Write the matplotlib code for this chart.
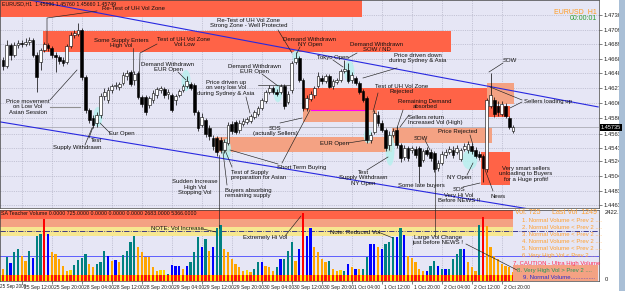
import matplotlib
matplotlib.use('Agg')
import matplotlib.pyplot as plt
import matplotlib.transforms as mtransforms
from matplotlib.patches import Rectangle, Ellipse
from matplotlib.lines import Line2D
import numpy as np

W, H = 625, 291
plt.rcParams['font.family'] = ['Liberation Sans', 'DejaVu Sans']

# ---- price data, in 1/10000 (EURUSD H1) ----
open_ = [14667,14658,14688,14674,14688,14691,14689,14692,14695,14674,
         14664,14681,14688,14684,14674,14671,14667,14664,14687,14702,
         14703,14709,14643,14597,14585,14578,14590,14616,14611,14625,
         14630,14629,14635,14644,14650,14639,14649,14615,14615,14604,
         14611,14618,14625,14626,14619,14618,14611,14618,14625,14630,
         14633,14632,14594,14576,14583,14571,14557,14557,14555,14540,
         14550,14577,14580,14569,14577,14580,14581,14587,14591,14599,
         14609,14622,14628,14622,14622,14630,14608,14625,14664,14670,
         14639,14599,14612,14618,14630,14642,14637,14644,14630,14636,
         14639,14651,14653,14639,14642,14635,14623,14614,14555,14566,
         14590,14578,14569,14548,14562,14569,14548,14531,14543,14540,
         14542,14543,14526,14540,14538,14536,14515,14522,14533,14538,
         14540,14538,14528,14542,14540,14546,14540,14535,14532,14514,
         14602,14611,14602,14591,14602,14585,14567]
high = [14671,14695,14691,14692,14695,14695,14698,14699,14698,14678,
        14684,14692,14691,14687,14678,14674,14671,14689,14706,14709,
        14719,14712,14646,14599,14590,14594,14621,14628,14629,14633,
        14636,14636,14650,14653,14653,14651,14651,14618,14618,14616,
        14625,14629,14630,14629,14626,14621,14619,14626,14633,14644,
        14636,14635,14597,14592,14585,14576,14562,14560,14559,14556,
        14580,14581,14583,14583,14585,14587,14591,14597,14602,14614,
        14625,14632,14630,14626,14633,14633,14623,14666,14678,14673,
        14642,14618,14623,14630,14650,14646,14647,14647,14640,14642,
        14654,14667,14663,14650,14644,14637,14626,14616,14566,14597,
        14595,14583,14571,14567,14571,14574,14550,14548,14546,14546,
        14546,14546,14542,14545,14542,14539,14526,14539,14542,14546,
        14546,14548,14543,14550,14553,14550,14545,14539,14535,14614,
        14649,14615,14609,14609,14606,14588,14576]
low = [14653,14656,14667,14671,14684,14685,14687,14688,14671,14622,
       14653,14678,14680,14670,14650,14661,14658,14661,14684,14698,
       14701,14639,14592,14578,14571,14573,14585,14611,14606,14621,
       14626,14625,14632,14639,14630,14632,14612,14601,14590,14599,
       14606,14614,14621,14614,14612,14594,14604,14615,14622,14628,
       14625,14590,14567,14573,14559,14555,14540,14532,14536,14536,
       14548,14563,14563,14564,14574,14577,14578,14584,14588,14597,
       14606,14619,14619,14616,14619,14598,14605,14621,14661,14636,
       14595,14595,14609,14614,14628,14633,14635,14628,14626,14633,
       14636,14649,14635,14635,14632,14619,14608,14550,14550,14563,
       14574,14566,14539,14540,14559,14543,14524,14526,14525,14536,
       14529,14494,14524,14532,14525,14510,14511,14519,14529,14535,
       14529,14535,14525,14539,14536,14535,14529,14526,14496,14510,
       14599,14587,14588,14588,14585,14570,14564]
close = [14658,14688,14674,14688,14691,14689,14692,14695,14674,14643,
         14681,14689,14684,14674,14671,14666,14663,14687,14702,14705,
         14709,14643,14597,14583,14576,14590,14616,14622,14625,14630,
         14632,14633,14646,14649,14633,14647,14615,14605,14594,14614,
         14621,14626,14628,14618,14622,14597,14616,14623,14630,14637,
         14628,14594,14571,14587,14563,14560,14546,14538,14540,14552,
         14576,14567,14566,14578,14581,14584,14588,14594,14599,14611,
         14622,14628,14622,14619,14630,14602,14619,14663,14670,14639,
         14599,14614,14619,14628,14644,14637,14644,14629,14637,14639,
         14651,14654,14637,14646,14635,14622,14611,14555,14562,14592,
         14578,14569,14543,14562,14567,14548,14529,14543,14529,14543,
         14533,14518,14539,14535,14529,14514,14522,14535,14538,14542,
         14533,14543,14540,14546,14549,14539,14532,14531,14515,14611,
         14618,14591,14594,14605,14588,14573,14573]

# ---- volume per bar and its class (T teal, B blue, O orange, R red, Y yellow) ----
volume = [360,780,570,960,1070,820,640,1000,750,1570,
          1640,2170,1640,960,890,710,460,285,150,500,
          680,750,890,530,430,530,600,1000,820,640,
          680,600,850,1000,1350,1570,1170,960,780,780,
          430,285,150,150,180,500,460,460,360,460,
          600,960,1530,1170,1460,1030,1170,1850,1960,1070,
          960,710,530,430,285,150,250,360,600,600,
          460,430,285,430,710,710,1000,1320,640,1070,
          2390,1570,1850,1140,960,710,600,640,360,285,
          150,285,530,430,360,360,360,780,1280,1280,
          1140,1070,1250,1320,1530,1530,1850,1600,820,750,
          600,360,285,285,460,640,460,360,360,360,
          710,890,1070,1070,600,430,285,1960,2240,1920,
          1140,820,710,530,460,430,250]
vol_class = list("OTBTTOOTBT" "TRBOOOOOYT" "TTTOOTTTBO" "BOTTTTOOOO"
                 "OOYYTBBBOB" "TTTBTOBTTO" "OOOOOYOTTB" "OOOTBTTTOB"
                 "RBBOOOOTOO" "YTBOBOTTBB" "OBTTTBTBOO" "OOOBTTBTBT"
                 "TTTBOOOTRO" "OOOOOOO")

price_levels = [1.47300, 1.47095, 1.46890, 1.46685, 1.46480, 1.46275, 1.46065,
                1.45860, 1.45635, 1.45430, 1.45245, 1.45040, 1.44835, 1.44630]
time_pos = [5, 13, 21, 29, 37, 45, 53, 61, 69, 77, 85, 93, 101, 109, 117, 125, 133]
time_labels = ["25 Sep 12:00", "25 Sep 20:00", "28 Sep 04:00", "28 Sep 12:00", "28 Sep 20:00",
               "29 Sep 04:00", "29 Sep 12:00", "29 Sep 20:00", "30 Sep 04:00", "30 Sep 12:00",
               "30 Sep 20:00", "1 Oct 04:00", "1 Oct 12:00", "1 Oct 20:00", "2 Oct 04:00",
               "2 Oct 12:00", "2 Oct 20:00"]

# supply/demand zones: (kind, bar from, bar to, price low, price high)
zones = [('red', -0.8, 95.7, 1.4727, 1.4770),
         ('red', 10.7, 119.5, 1.4678, 1.4708),
         ('red', 80.0, 129.1, 1.4597, 1.4628),
         ('salmon', 80.0, 99.7, 1.4580, 1.4597),
         ('salmon', 56.5, 103.7, 1.4538, 1.4559),
         ('salmon', 103.7, 130.4, 1.4550, 1.4571),
         ('salmon', 129.1, 136.3, 1.4605, 1.4635),
         ('red', 129.1, 135.2, 1.4587, 1.4602),
         ('red', 127.5, 135.2, 1.4491, 1.4538)]
trend_upper = ([7.2, 158.7], [1.4751, 1.4601])
trend_lower = ([-0.8, 140.0], [1.4580, 1.4458])
last_price = 1.4573
# highlighted bars: (bar, price, width in bars, height in price)
highlights = [(25.3, 1.4587, 2.4, 0.0028), (48.8, 1.4638, 2.4, 0.0030),
              (59.5, 1.4541, 2.6, 0.0030), (73.3, 1.4620, 2.2, 0.0025),
              (78.2, 1.4672, 2.0, 0.0018), (92.3, 1.4651, 2.8, 0.0030),
              (97.3, 1.4560, 2.2, 0.0020), (103.2, 1.4541, 2.4, 0.0045),
              (124.5, 1.4527, 4.0, 0.0028)]

RED = '#FF6347'
SALMON = '#F4A283'
BG = '#E6E6F5'
vol_colors = {'T': '#008080', 'B': '#0000FF', 'O': '#FFA500', 'R': '#FF0000', 'Y': '#FFD700'}


def fx(x):
    return x / W


def fy(y):
    return 1 - y / H


o = np.array(open_) / 1e4
h = np.array(high) / 1e4
l = np.array(low) / 1e4
c = np.array(close) / 1e4
idx = np.arange(len(c))
x0, x1 = -0.8, 158.93

fig = plt.figure(figsize=(W / 100, H / 100), dpi=100)
fig.patch.set_facecolor('white')
ax = fig.add_axes([0, fy(208), fx(599), 208 / H])
axv = fig.add_axes([0, fy(281), fx(599), (281 - 209.5) / H])

for a in (ax, axv):
    a.set_facecolor(BG)
    a.set_xlim(x0, x1)
    for s in a.spines.values():
        s.set_color('#404040')
        s.set_linewidth(0.5)
    a.set_axisbelow(True)
    a.set_xticks(time_pos)
    a.grid(True, axis='x', color='#A8A8BC', lw=0.4, ls=(0, (2, 2)))

# ---- main price panel ----
ax.set_ylim(1.44591, 1.47511)
ax.set_yticks(price_levels)
ax.set_yticklabels(['%.5f' % p for p in price_levels])
ax.yaxis.tick_right()
ax.grid(True, axis='y', color='#A8A8BC', lw=0.4, ls=(0, (2, 2)))
ax.tick_params(axis='y', labelsize=4.2, length=2, pad=1.5, colors='#202020', width=0.4)
ax.tick_params(axis='x', length=0, labelbottom=False)

for kind, a0, a1, p0, p1 in zones:
    ax.add_patch(Rectangle((a0, p0), a1 - a0, p1 - p0, facecolor=RED if kind == 'red' else SALMON,
                           edgecolor='none', zorder=1))
ax.plot([82, 97], [1.4597, 1.4597], color='#FF00FF', lw=0.8, zorder=2)
for bx, bp, bw, bh in highlights:
    ax.add_patch(Ellipse((bx, bp), bw, bh, facecolor='#B8F0EE', edgecolor='none', alpha=0.85, zorder=1.5))
ax.plot(*trend_upper, color='#2828E0', lw=0.8, zorder=2)
ax.plot(*trend_lower, color='#2828E0', lw=0.8, zorder=2)
ax.axhline(last_price, color='#A0A0A8', lw=0.5, zorder=1.8)

ax.vlines(idx, l, h, color='black', lw=0.5, zorder=3)
up = c >= o
ax.bar(idx, np.maximum(np.abs(c - o), 0.00003), bottom=np.minimum(o, c), width=0.7,
       color=np.where(up, 'white', 'black'), edgecolor='black', linewidth=0.4, zorder=4)

# ---- volume panel ----
axv.set_ylim(-72, 2513)
axv.yaxis.tick_right()
axv.add_patch(Rectangle((x0, 2170), 136 - x0, 400, facecolor=RED, edgecolor='none', zorder=1))
axv.add_patch(Rectangle((x0, 1880), 136 - x0, 290, facecolor=SALMON, edgecolor='none', zorder=1))
axv.add_patch(Rectangle((x0, 1537), 136 - x0, 343, facecolor='#F7E790', edgecolor='none', zorder=1))
axv.add_patch(Rectangle((x0, -72), 136 - x0, 222, facecolor='#FFE800', edgecolor='none', zorder=1))
axv.axhline(1736, color='#202080', lw=0.6, ls='-.', zorder=2)
axv.axhline(832, color='#4848FF', lw=0.6, zorder=2)
vol_h = [v if k != 'Y' else 330 for v, k in zip(volume, vol_class)]
axv.bar(idx, vol_h, width=0.58, color=[vol_colors[k] for k in vol_class], zorder=3)
axv.bar(idx, 222, bottom=-72, width=0.58, color='#FF1010', zorder=3.5)
axv.set_xticks(time_pos)
axv.set_xticklabels(time_labels, ha='left')
axv.tick_params(axis='x', labelsize=3.6, length=2.5, pad=0.5, colors='#202020', width=0.4)
shift = mtransforms.ScaledTranslation(2 / 100, 0, fig.dpi_scale_trans)
for lab in axv.get_xticklabels():
    lab.set_transform(lab.get_transform() + shift)
axv.set_yticks([0, 2422.7])
axv.set_yticklabels(['0', '2422.7'])
axv.tick_params(axis='y', labelsize=4.2, length=0, pad=4, colors='#202020')
fig.text(fx(0.5), fy(286.5), "25 Sep 2009", fontsize=3.3, ha='left', va='center', color='#202020')

# ---- annotations (pixel positions of the screenshot) ----
notes = [
    ("Re-Test of UH Vol Zone", 133, 8, 'center'),
    ("Some Supply Enters\nHigh Vol", 121, 43, 'center'),
    ("Test of UH Vol Zone\nVol Low", 184, 42, 'center'),
    ("Demand Withdrawn\nEUR Open", 168, 67, 'center'),
    ("Price movement\non Low Vol\nAsian Session", 28, 107, 'center'),
    ("Eur Open", 122, 134, 'center'),
    ("Test", 96, 140, 'center'),
    ("Supply Withdrawn", 77, 147, 'center'),
    ("Price driven up\non very low Vol\nduring Sydney & Asia", 226, 88, 'center'),
    ("Demand Withdrawn\nEUR Open", 255, 69, 'center'),
    ("Re-Test of UH Vol Zone\nStrong Zone - Well Protected", 249, 23, 'center'),
    ("Demand Withdrawn\nNY Open", 310, 42, 'center'),
    ("Demand Withdrawn\nSOW / ND", 377, 47, 'center'),
    ("Tokyo Open", 333, 58, 'center'),
    ("Price driven down\nduring Sydney & Asia", 418, 58, 'center'),
    ("Test of UH Vol Zone\nRejected", 402, 89, 'center'),
    ("Remaining Demand\nabsorbed", 425, 104, 'center'),
    ("Sellers return\nIncreased Vol (High)", 408, 120, 'left'),
    ("SOW", 421, 138, 'center'),
    ("Price Rejected", 458, 132, 'center'),
    ("EUR Open", 335, 143, 'center'),
    ("Test\nSupply Withdrawn\nNY Open", 363, 178, 'center'),
    ("Some late buyers", 421, 186, 'center'),
    ("NY Open", 459, 177, 'center'),
    ("SOS\nVery Hi Vol\nBefore NEWS !!", 459, 195, 'center'),
    ("News", 498, 196, 'center'),
    ("Very smart sellers\nunloading to Buyers\nfor a Huge profit!", 526, 174, 'center'),
    ("SOW", 510, 61, 'center'),
    ("Sellers loading up", 548, 101, 'center'),
    ("Short Term Buying", 302, 167, 'center'),
    ("SOS\n(actually Sellers)", 275, 131, 'center'),
    ("Test of Supply\npreparation for Asian", 231, 175, 'left'),
    ("Buyers absorbing\nremaining supply", 225, 193, 'left'),
    ("Sudden Increase\nHigh Vol\nStopping Vol", 195, 187, 'center'),
    ("NOTE: Vol Increase", 177, 229, 'center'),
    ("Extremely Hi Vol", 265, 238, 'center'),
    ("Note: Reduced Vol", 355, 233, 'center'),
    ("Large Vol Change\njust before NEWS !", 438, 240, 'center'),
]
for s, px, py, ha in notes:
    fig.text(fx(px), fy(py), s, ha=ha, va='center', fontsize=4.3, linespacing=1.15,
             color='#101010', zorder=10)

leaders = [
    [(97, 11), (47, 18), (47, 45)],
    [(133, 48), (133, 72)],
    [(157, 44), (140, 53), (139, 93)],
    [(178, 72), (186, 80)],
    [(50, 100), (77, 70)],
    [(110, 133), (100, 123)],
    [(89, 138), (93, 127)],
    [(85, 145), (92, 128)],
    [(246, 97), (250, 113)],
    [(262, 74), (278, 86)],
    [(258, 85), (290, 85)],
    [(278, 30), (292, 53)],
    [(300, 47), (297, 53)],
    [(357, 53), (348, 58)],
    [(333, 60), (343, 67)],
    [(397, 68), (363, 78)],
    [(378, 93), (373, 112)],
    [(403, 110), (397, 128)],
    [(409, 115), (400, 127)],
    [(425, 140), (430, 150)],
    [(470, 135), (473, 145)],
    [(348, 143), (367, 140)],
    [(367, 170), (388, 157)],
    [(435, 160), (435, 236)],
    [(467, 175), (473, 163)],
    [(463, 187), (480, 183)],
    [(493, 191), (484, 167)],
    [(503, 63), (489, 72)],
    [(522, 100), (490, 87)],
    [(522, 102), (510, 108)],
    [(278, 164), (230, 150)],
    [(282, 163), (310, 110)],
    [(280, 123), (302, 118)],
    [(232, 167), (225, 150)],
    [(227, 185), (223, 152)],
    [(219, 155), (219, 228)],
    [(203, 229), (216, 232)],
    [(285, 236), (301, 216)],
    [(378, 232), (393, 238)],
    [(466, 244), (517, 270)],
]
for pts in leaders:
    xs = [fx(p[0]) for p in pts]
    ys = [fy(p[1]) for p in pts]
    fig.add_artist(Line2D(xs, ys, transform=fig.transFigure, color='#202020', lw=0.45, zorder=9))
fig.add_artist(Line2D([fx(50), fx(80)], [fy(107), fy(107)], transform=fig.transFigure,
                      color='#909090', lw=0.8, zorder=9))

# chart header / labels
fig.text(fx(2), fy(3.5), "EURUSD,H1  1.45696 1.45760 1.45660 1.45749", fontsize=3.8,
         ha='left', va='center', color='#101010', zorder=10)
fig.text(fx(597), fy(12), "EURUSD  H1", fontsize=5, ha='right', va='center', color='#FF9A20', zorder=10)
fig.text(fx(597), fy(19), "00:00:01", fontsize=5, ha='right', va='center', color='#30A030', zorder=10)
fig.text(fx(601), fy(127.5), "1.45735", fontsize=4.0, ha='left', va='center', color='white', zorder=10,
         bbox=dict(facecolor='black', edgecolor='none', pad=0.6))
fig.text(fx(1), fy(213.5), "SA Teacher Volume 0.0000 725.0000 0.0000 0.0000 0.0000 2683.0000 5366.0000",
         fontsize=3.8, ha='left', va='center', color='#101010', zorder=10)

# volume legend
fig.add_artist(Rectangle((fx(513), fy(281)), fx(598) - fx(513), 16 / H, transform=fig.transFigure,
                         facecolor=SALMON, edgecolor='none', zorder=8))
fig.text(fx(515), fy(213), "Vol. 725", fontsize=5, ha='left', va='center', color='#FFA030', zorder=10)
fig.text(fx(597), fy(213), "Last Vol  1249", fontsize=5, ha='right', va='center', color='#FFA030', zorder=10)
legend_rows = ["1. Normal Volume < Prev 2 ....", "2. Normal Volume < Prev 2 ....",
               "3. Normal Volume < Prev 2 ....", "4. Normal Volume < Prev 2 ....",
               "5. Normal Volume < Prev 2 ....", "6. Very High Vol < Prev 2 ....",
               "7. CAUTION - Ultra High Volume", "8. Very High Vol > Prev 2 ....",
               "9. Normal Volume..............."]
legend_cols = ['#FFA030'] * 6 + ['#FF2A55', '#1E9A5A', '#2A2AD0']
legend_x = [522, 522, 522, 522, 522, 522, 513, 517, 523]
for k, (s, col) in enumerate(zip(legend_rows, legend_cols)):
    fig.text(fx(legend_x[k]), fy(220.5 + 7.1 * k), s, fontsize=4.3, ha='left', va='center',
             color=col, zorder=10)

# scroll bar strip at the far right
fig.add_artist(Rectangle((fx(619), 0), fx(6), 1, transform=fig.transFigure,
                         facecolor='#A9BFD6', edgecolor='none', zorder=1))

fig.savefig('out.png', dpi=100)
